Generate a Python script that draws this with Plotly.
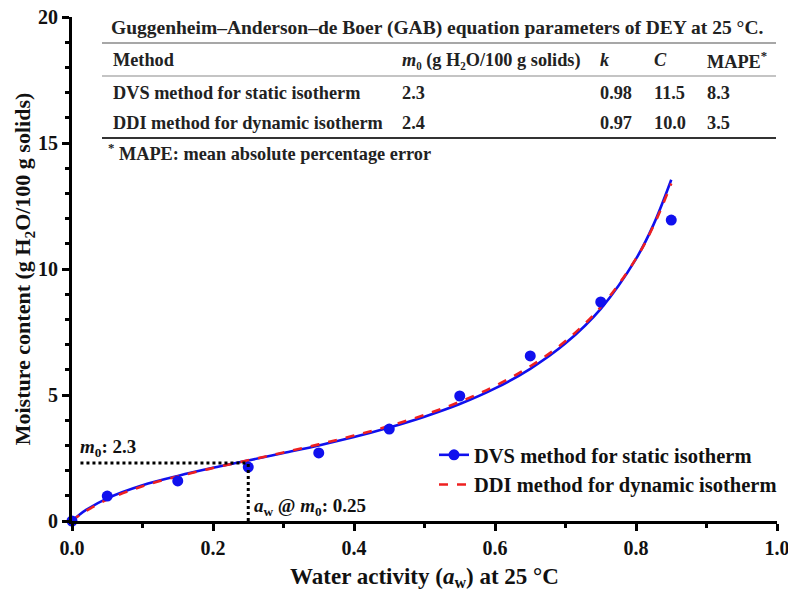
import plotly.graph_objects as go

# ---------------- data ----------------
aw_points = [0.0, 0.05, 0.15, 0.25, 0.35, 0.45, 0.55, 0.65, 0.75, 0.85]
m_points = [0.0, 0.99, 1.59, 2.14, 2.70, 3.65, 4.96, 6.55, 8.69, 11.94]

aw_curve = [0.0, 0.01, 0.02, 0.05, 0.10, 0.15, 0.20, 0.25, 0.30, 0.35, 0.40,
            0.45, 0.50, 0.55, 0.60, 0.65, 0.70, 0.75, 0.80, 0.825, 0.85]
m_dvs_curve = [0.0, 0.24, 0.44, 0.90, 1.42, 1.79, 2.11, 2.40, 2.70, 3.00, 3.33,
               3.71, 4.14, 4.64, 5.26, 6.04, 7.05, 8.42, 10.40, 11.77, 13.54]
m_ddi_curve = [0.0, 0.22, 0.40, 0.85, 1.38, 1.77, 2.10, 2.41, 2.72, 3.04, 3.39,
               3.77, 4.21, 4.73, 5.36, 6.14, 7.14, 8.49, 10.41, 11.72, 13.39]

m0_value = 2.3
aw_at_m0 = 0.25

x_ticks = [0.0, 0.2, 0.4, 0.6, 0.8, 1.0]
x_ticklabels = ["0.0", "0.2", "0.4", "0.6", "0.8", "1.0"]
y_ticks = [0, 5, 10, 15, 20]

series_names = ["DVS method for static isotherm", "DDI method for dynamic isotherm"]

table_title = "Guggenheim–Anderson–de Boer (GAB) equation parameters of DEY at 25 °C."
table_header = ["Method", "<i>m</i>₀ (g H₂O/100 g solids)", "<i>k</i>", "<i>C</i>", "MAPE<sup>*</sup>"]
table_rows = [
    ["DVS method for static isotherm", "2.3", "0.98", "11.5", "8.3"],
    ["DDI method for dynamic isotherm", "2.4", "0.97", "10.0", "3.5"],
]
table_note = "<sup>*</sup> MAPE: mean absolute percentage error"

# ---------------- styling ----------------
FONT = "Liberation Serif"
BLUE = "#1010ee"
RED = "#ee2020"
W, H = 788, 593
ML, MR, MT, MB = 72, 11, 17, 72
PW, PH = W - ML - MR, H - MT - MB


def px(x):
    return (x - ML) / PW


def py(y):
    return (H - MB - y) / PH


fig = go.Figure()

fig.add_trace(go.Scatter(x=aw_curve, y=m_dvs_curve, mode="lines", line=dict(color=BLUE, width=2.6, shape="spline"),
                         showlegend=False, cliponaxis=False))
fig.add_trace(go.Scatter(x=aw_curve, y=m_ddi_curve, mode="lines", line=dict(color=RED, width=2.6, dash="dash", shape="spline"),
                         showlegend=False, cliponaxis=False))
fig.add_trace(go.Scatter(x=aw_points, y=m_points, mode="markers", marker=dict(color=BLUE, size=11),
                         showlegend=False, cliponaxis=False))
# legend entries
fig.add_trace(go.Scatter(x=[None], y=[None], mode="lines+markers", name=series_names[0],
                         line=dict(color=BLUE, width=2.6), marker=dict(color=BLUE, size=11)))
fig.add_trace(go.Scatter(x=[None], y=[None], mode="lines", name=series_names[1],
                         line=dict(color=RED, width=2.6, dash="dash")))

# dotted guide lines
fig.add_shape(type="line", x0=0.012, x1=aw_at_m0, y0=m0_value, y1=m0_value, xref="x", yref="y",
              line=dict(color="black", width=3, dash="dot"))
fig.add_shape(type="line", x0=aw_at_m0, x1=aw_at_m0, y0=0, y1=m0_value, xref="x", yref="y",
              line=dict(color="black", width=3, dash="dot"))

ann = []
ann.append(dict(x=0.008, y=m0_value + 0.05, xref="x", yref="y", xanchor="left", yanchor="bottom",
                text="<b><i>m</i><sub>0</sub>: 2.3</b>", showarrow=False, font=dict(size=19, family=FONT, color="#111")))
ann.append(dict(x=aw_at_m0 + 0.006, y=0.55, xref="x", yref="y", xanchor="left", yanchor="middle",
                text="<b><i>a</i><sub>w</sub> @ <i>m</i><sub>0</sub>: 0.25</b>", showarrow=False,
                font=dict(size=19, family=FONT, color="#111")))

# table
TT = 19.5
TS = 18.3
ann.append(dict(x=px(109), y=py(28), xref="paper", yref="paper", xanchor="left", yanchor="middle",
                text="<b>" + table_title + "</b>", showarrow=False, font=dict(size=TT, family=FONT, color="#222")))
col_x = [111, 400, 598, 652, 705]
row_y = [60, 93, 123]
for j, h in enumerate(table_header):
    ann.append(dict(x=px(col_x[j]), y=py(row_y[0]), xref="paper", yref="paper", xanchor="left", yanchor="middle",
                    text="<b>" + h + "</b>", showarrow=False, font=dict(size=TS, family=FONT, color="#222")))
for i, row in enumerate(table_rows):
    for j, c in enumerate(row):
        ann.append(dict(x=px(col_x[j]), y=py(row_y[i + 1]), xref="paper", yref="paper", xanchor="left",
                        yanchor="middle", text="<b>" + c + "</b>", showarrow=False,
                        font=dict(size=TS, family=FONT, color="#222")))
ann.append(dict(x=px(106), y=py(152), xref="paper", yref="paper", xanchor="left", yanchor="middle",
                text="<b>" + table_note + "</b>", showarrow=False, font=dict(size=TS, family=FONT, color="#222")))

for yy, col, wd in [(43, "#8a8a8a", 1.5), (76, "#8a8a8a", 1.2), (138, "#333333", 2)]:
    fig.add_shape(type="line", x0=px(102), x1=px(776), y0=py(yy), y1=py(yy), xref="paper", yref="paper",
                  line=dict(color=col, width=wd))

fig.update_layout(
    width=W, height=H,
    margin=dict(l=ML, r=MR, t=MT, b=MB, autoexpand=False),
    plot_bgcolor="white", paper_bgcolor="white",
    font=dict(family=FONT, color="black"),
    annotations=ann,
    showlegend=True,
    legend=dict(x=px(434), y=py(435), xanchor="left", yanchor="top", bgcolor="rgba(0,0,0,0)",
                font=dict(size=20.5, family=FONT, color="#111", weight="bold"), itemwidth=30,
                tracegroupgap=0),
)
fig.update_xaxes(
    range=[0, 1], tickvals=x_ticks, ticktext=x_ticklabels, showgrid=False, zeroline=False,
    showline=True, linecolor="black", linewidth=3, ticks="outside", ticklen=7, tickwidth=3, tickcolor="black",
    minor=dict(dtick=0.1, tick0=0, ticks="outside", ticklen=4, tickwidth=3, tickcolor="black"),
    tickfont=dict(size=20, family=FONT, color="#111", weight="bold"), ticklabeloverflow="allow",
    title=dict(text="<b>Water activity (<i>a</i><sub>w</sub>) at 25 °C</b>", font=dict(size=23, family=FONT, color="#111"),
               standoff=10),
)
fig.update_yaxes(
    range=[0, 20], tickvals=y_ticks, showgrid=False, zeroline=False,
    showline=True, linecolor="black", linewidth=3, ticks="outside", ticklen=7, tickwidth=3, tickcolor="black",
    minor=dict(dtick=1, tick0=0, ticks="outside", ticklen=4, tickwidth=3, tickcolor="black"),
    tickfont=dict(size=20, family=FONT, color="#111", weight="bold"),
    title=dict(text="<b>Moisture content (g H<sub>2</sub>O/100 g solids)</b>", font=dict(size=22, family=FONT, color="#111"),
               standoff=0),
)

fig.write_html("out.html")
